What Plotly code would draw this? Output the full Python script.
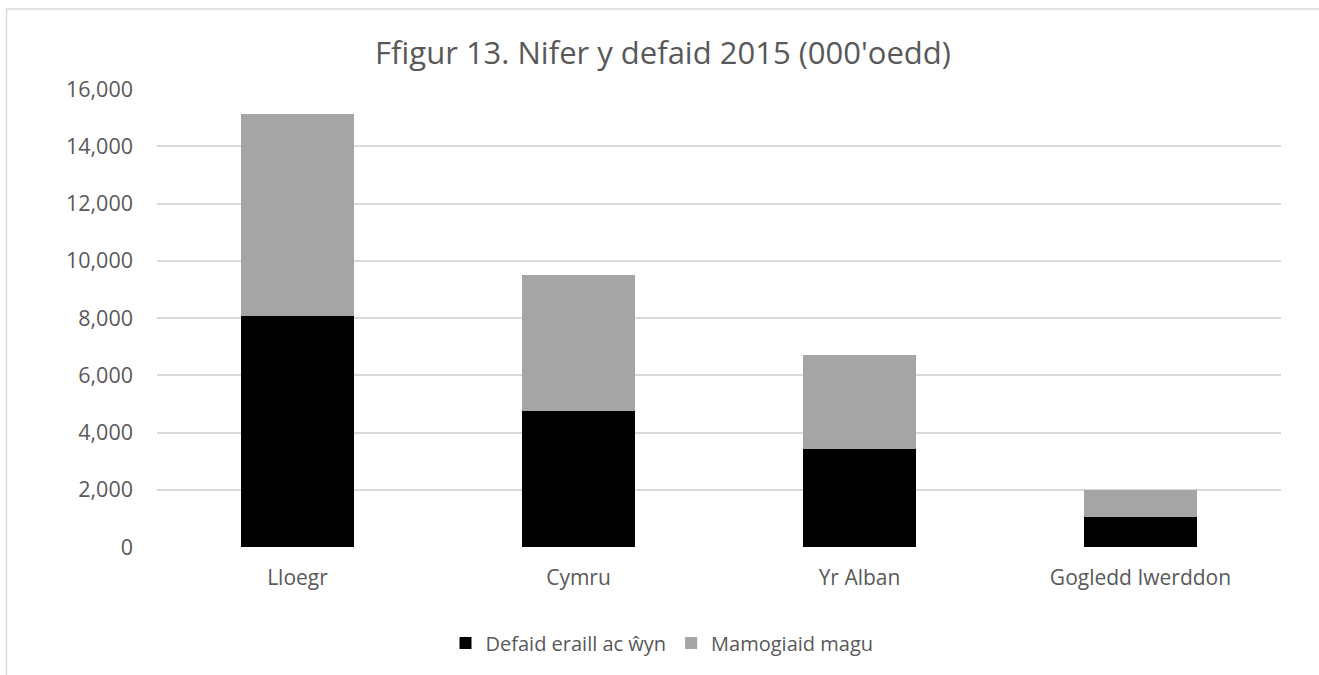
import plotly.graph_objects as go

categories = ["Lloegr", "Cymru", "Yr Alban", "Gogledd Iwerddon"]
other_sheep = [8060, 4760, 3420, 1040]
breeding_ewes = [7075, 4740, 3280, 950]
series_names = ["Defaid eraill ac ŵyn", "Mamogiaid magu"]
y_ticks = [0, 2000, 4000, 6000, 8000, 10000, 12000, 14000, 16000]
title_text = "Ffigur 13. Nifer y defaid 2015 (000'oedd)"

FONT = "Open Sans, Noto Sans, sans-serif"
TXT = "#595959"

W, H = 1319, 675
L, R, T, B = 157, 38, 89, 128
pw, ph = W - L - R, H - T - B

def px_x(p):
    return (p - L) / pw

def px_y(p):
    return (H - B - p) / ph

fig = go.Figure()
fig.add_trace(go.Bar(x=categories, y=other_sheep, name=series_names[0],
                     marker=dict(color="#000000", line=dict(width=0))))
fig.add_trace(go.Bar(x=categories, y=breeding_ewes, name=series_names[1],
                     marker=dict(color="#a5a5a5", line=dict(width=0))))

fig.update_layout(
    width=W, height=H,
    barmode="stack", bargap=0.6,
    paper_bgcolor="white", plot_bgcolor="white",
    margin=dict(l=L, r=R, t=T, b=B, autoexpand=False),
    font=dict(family=FONT, color=TXT, size=20),
    title=dict(text=title_text, x=663 / W, xanchor="center",
               y=1 - 53 / H, yanchor="middle",
               font=dict(family=FONT, size=31, color=TXT)),
    legend=dict(orientation="h", x=px_x(662), xanchor="center",
                y=px_y(643), yanchor="middle", traceorder="normal",
                font=dict(family=FONT, size=20, color=TXT),
                itemwidth=30, bgcolor="rgba(0,0,0,0)"),
    showlegend=True,
    xaxis=dict(showgrid=False, showline=False, zeroline=False, ticks="",
               ticklabelstandoff=16, tickfont=dict(size=21, color=TXT)),
    yaxis=dict(range=[0, 16000], tickvals=y_ticks, tickformat=",d",
               showgrid=True, gridcolor="#d9d9d9", gridwidth=1.5,
               zeroline=False, showline=False, ticks="",
               ticklabelstandoff=23, tickfont=dict(size=21.5, color=TXT)),
    shapes=[dict(type="rect", xref="paper", yref="paper",
                 x0=px_x(6.5), x1=px_x(1330), y0=px_y(690), y1=px_y(9),
                 line=dict(color="#d9d9d9", width=1.5), fillcolor="rgba(0,0,0,0)",
                 layer="below")],
)

fig.write_html("out.html",
               config={"displayModeBar": False},
               post_script="document.body.style.margin='0';document.body.style.overflow='hidden';")
